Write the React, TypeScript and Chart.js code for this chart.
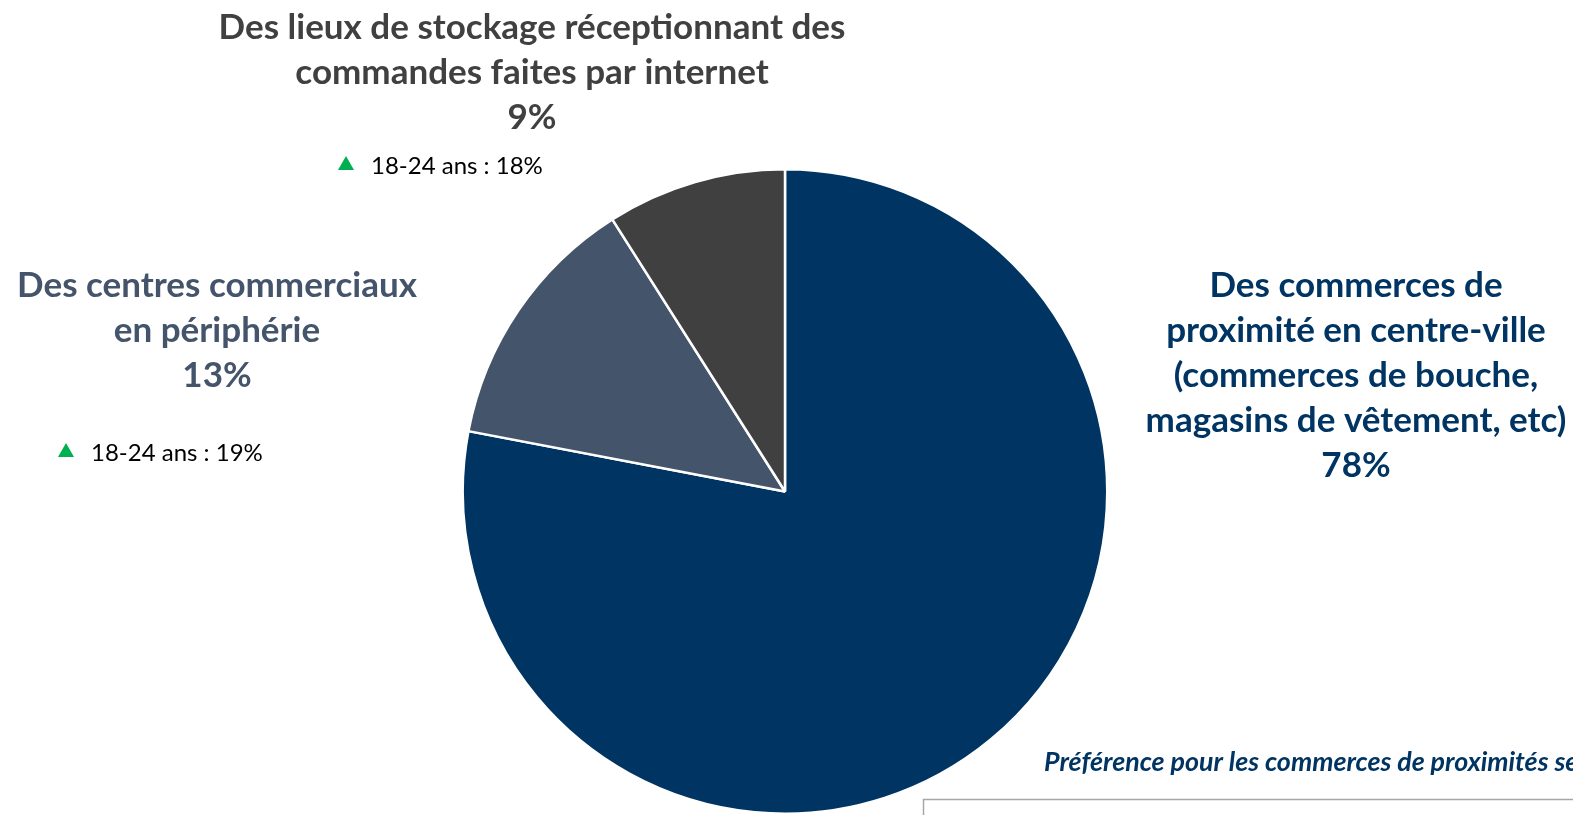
import React, { useEffect, useRef } from "react";
import { Chart, registerables } from "chart.js";

Chart.register(...registerables);

const categories = [
  "Des commerces de proximité en centre-ville (commerces de bouche, magasins de vêtement, etc)",
  "Des centres commerciaux en périphérie",
  "Des lieux de stockage réceptionnant des commandes faites par internet",
];
const shares = [78, 13, 9];
const youthLabel = "18-24 ans";
const youthShares: (number | null)[] = [null, 19, 18];
const labelLines = [
  ["Des commerces de", "proximité en centre-ville", "(commerces de bouche,", "magasins de vêtement, etc)"],
  ["Des centres commerciaux", "en périphérie"],
  ["Des lieux de stockage réceptionnant des", "commandes faites par internet"],
];
const sliceColors = ["#003462", "#44546A", "#404040"];
const footnote = "Préférence pour les commerces de proximités selon l'âge";

const FONT = "Lato, 'Open Sans', sans-serif";

const labelLayout = [
  { x: 1356, y: 286 },
  { x: 217, y: 286 },
  { x: 532, y: 28 },
];
const youthLayout = [null, { x: 66, y: 452 }, { x: 346, y: 165 }];

const textPlugin = {
  id: "pieTexts",
  afterDraw(chart: any) {
    const ctx = chart.ctx as CanvasRenderingContext2D;
    ctx.save();
    const pitch = 45;
    categories.forEach((_, i) => {
      const pos = labelLayout[i];
      const lines = [...labelLines[i], shares[i] + "%"];
      ctx.fillStyle = sliceColors[i];
      ctx.font = `bold 35px ${FONT}`;
      ctx.textAlign = "center";
      ctx.textBaseline = "middle";
      lines.forEach((l, k) => ctx.fillText(l, pos.x, pos.y + k * pitch));
      const y = youthLayout[i];
      const v = youthShares[i];
      if (y && v != null) {
        ctx.fillStyle = "#00B050";
        ctx.beginPath();
        ctx.moveTo(y.x - 8, y.y + 5);
        ctx.lineTo(y.x + 8, y.y + 5);
        ctx.lineTo(y.x, y.y - 9);
        ctx.closePath();
        ctx.fill();
        ctx.fillStyle = "#000000";
        ctx.font = `24px ${FONT}`;
        ctx.textAlign = "left";
        ctx.fillText(`${youthLabel} : ${v}%`, y.x + 25, y.y + 1);
      }
    });
    ctx.fillStyle = "#003462";
    ctx.font = `italic bold 26.8px ${FONT}`;
    ctx.textAlign = "left";
    ctx.textBaseline = "middle";
    ctx.fillText(footnote, 1044, 762);
    ctx.strokeStyle = "#A6A6A6";
    ctx.lineWidth = 1.5;
    ctx.strokeRect(923.5, 799.5, 700, 100);
    ctx.restore();
  },
};

export default function App() {
  const ref = useRef<HTMLCanvasElement>(null);
  useEffect(() => {
    document.body.style.margin = "0";
    document.body.style.overflow = "hidden";
    const chart = new Chart(ref.current!, {
      type: "pie",
      data: {
        labels: categories,
        datasets: [
          {
            data: shares,
            backgroundColor: sliceColors,
            borderColor: "#FFFFFF",
            borderWidth: 2.5,
          },
        ],
      },
      options: {
        animation: false,
        responsive: false,
        layout: { padding: { top: 168, bottom: 0, left: 461, right: 464 } },
        plugins: { legend: { display: false }, tooltip: { enabled: false } },
      },
      plugins: [textPlugin],
    });
    return () => chart.destroy();
  }, []);
  return (
    <div style={{ width: 1573, height: 815, background: "#fff" }}>
      <canvas ref={ref} width={1573} height={815} style={{ display: "block" }} />
    </div>
  );
}
